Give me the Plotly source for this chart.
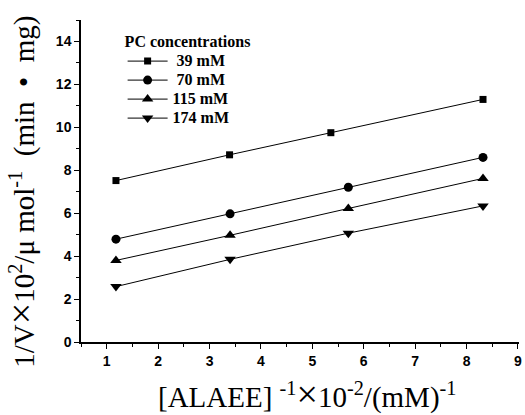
import plotly.graph_objects as go

series_names = ["&nbsp;39 mM", "&nbsp;70 mM", "115 mM", "174 mM"]
x_39 = [1.18, 3.39, 5.36, 8.32]
y_39 = [7.52, 8.72, 9.75, 11.30]
x_70 = [1.18, 3.40, 5.70, 8.32]
y_70 = [4.79, 5.97, 7.21, 8.60]
x_115 = [1.18, 3.40, 5.70, 8.32]
y_115 = [3.80, 4.97, 6.22, 7.62]
x_174 = [1.18, 3.40, 5.70, 8.32]
y_174 = [2.58, 3.85, 5.07, 6.34]
x_ticks = [1, 2, 3, 4, 5, 6, 7, 8, 9]
y_ticks = [0, 2, 4, 6, 8, 10, 12, 14]
legend_title = "PC concentrations"
big_x = '<span style="font-size:38px">×</span>'
x_title = "[ALAEE]&nbsp;<sup>-1</sup>" + big_x + "10<sup>-2</sup>/(mM)<sup>-1</sup>"
y_title = ("1/V" + big_x + "10<sup>2</sup>/μ mol<sup>-1</sup>&nbsp;&nbsp;"
           "(min&nbsp;&nbsp;•&nbsp;&nbsp;mg)")
symbols = ["square", "circle", "triangle-up", "triangle-down"]
sizes = [7, 9, 10, 10]

fig = go.Figure()
for name, xs, ys, sym, sz in zip(series_names, [x_39, x_70, x_115, x_174],
                                 [y_39, y_70, y_115, y_174], symbols, sizes):
    fig.add_trace(go.Scatter(x=xs, y=ys, mode="lines+markers",
                             name='<span style="font-size:16px"><b>%s</b></span>' % name,
                             line=dict(color="black", width=1),
                             marker=dict(symbol=sym, size=sz, color="black")))

serif = "Liberation Serif, Noto Sans CJK SC, serif"
tickfont = dict(family="Liberation Sans", size=14, color="black")
fig.update_layout(
    width=525, height=415,
    margin=dict(l=81, r=6, t=20, b=73),
    plot_bgcolor="white", paper_bgcolor="white",
    showlegend=True,
    legend=dict(x=0.095, y=0.982, xanchor="left", yanchor="top",
                bgcolor="rgba(0,0,0,0)",
                title=dict(text="<b>%s</b>" % legend_title,
                           font=dict(family="Liberation Serif", size=16, color="black")),
                font=dict(family="Liberation Serif", size=12, color="black"),
                itemwidth=40, tracegroupgap=0),
    xaxis=dict(range=[0.5, 9.02], tickmode="array", tickvals=x_ticks,
               ticktext=["<b>%d</b>" % v for v in x_ticks],
               ticks="outside", ticklen=5, tickwidth=1.2, tickcolor="black",
               minor=dict(tickvals=[0.5, 1.5, 2.5, 3.5, 4.5, 5.5, 6.5, 7.5, 8.5],
                          ticks="outside", ticklen=3, tickwidth=1, tickcolor="black"),
               showline=True, linecolor="black", linewidth=1.5, showgrid=False, zeroline=False,
               tickfont=tickfont, automargin=False),
    yaxis=dict(range=[0, 15], tickmode="array", tickvals=y_ticks,
               ticktext=["<b>%d</b>" % v for v in y_ticks],
               ticks="outside", ticklen=5, tickwidth=1.2, tickcolor="black",
               minor=dict(tickvals=[1, 3, 5, 7, 9, 11, 13, 15],
                          ticks="outside", ticklen=3, tickwidth=1, tickcolor="black"),
               showline=True, linecolor="black", linewidth=1.5, showgrid=False, zeroline=False,
               tickfont=tickfont, automargin=False),
    annotations=[
        dict(text=x_title, xref="paper", yref="paper", x=0.516, y=-0.16,
             xanchor="center", yanchor="middle", showarrow=False,
             font=dict(family=serif, size=29, color="black")),
        dict(text=y_title, xref="paper", yref="paper", x=-0.136, y=0.468,
             xanchor="center", yanchor="middle", showarrow=False, textangle=-90,
             font=dict(family=serif, size=29, color="black")),
    ],
)
fig.write_html("out.html", config={"displayModeBar": False})
with open("out.html", encoding="utf-8") as f:
    html = f.read()
html = html.replace("<body>", '<body style="margin:0">', 1)
with open("out.html", "w", encoding="utf-8") as f:
    f.write(html)
